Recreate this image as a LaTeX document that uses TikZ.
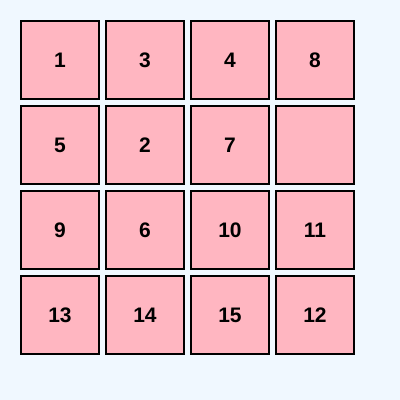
\documentclass[tikz,border=0pt]{standalone}
\usepackage{fontspec}
\setmainfont{Liberation Sans}
\definecolor{bgc}{HTML}{F0F8FF}
\definecolor{tilec}{HTML}{FFB6C1}
\begin{document}
\begin{tikzpicture}[x=1pt,y=-1pt,
  tile/.style={draw=black,fill=tilec,line width=2pt,minimum size=78pt,inner sep=0pt,font=\fontsize{21}{25}\selectfont\bfseries,text=black}]
\fill[bgc] (0,0) rectangle (400,400);
\useasboundingbox (0,0) rectangle (400,400);
\node[tile] (t11) at (60,60) {1};
\node[tile] (t12) at (145,60) {3};
\node[tile] (t13) at (230,60) {4};
\node[tile] (t14) at (315,60) {8};
\node[tile] (t21) at (60,145) {5};
\node[tile] (t22) at (145,145) {2};
\node[tile] (t23) at (230,145) {7};
\node[tile] (t24) at (315,145) {};
\node[tile] (t31) at (60,230) {9};
\node[tile] (t32) at (145,230) {6};
\node[tile] (t33) at (230,230) {10};
\node[tile] (t34) at (315,230) {11};
\node[tile] (t41) at (60,315) {13};
\node[tile] (t42) at (145,315) {14};
\node[tile] (t43) at (230,315) {15};
\node[tile] (t44) at (315,315) {12};
\end{tikzpicture}
\end{document}
